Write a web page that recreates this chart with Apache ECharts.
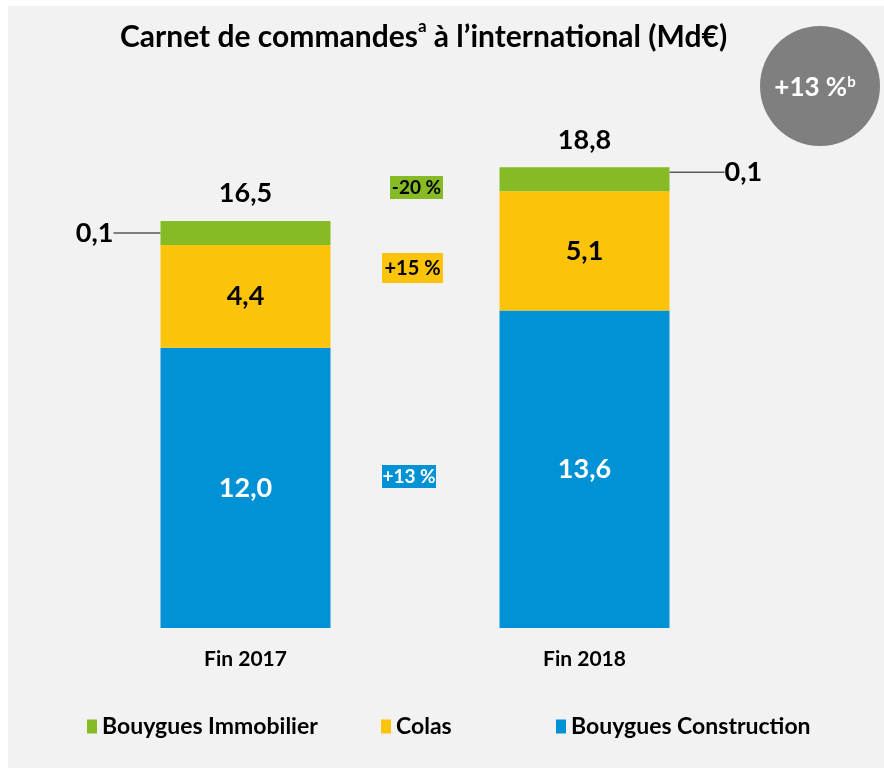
<!DOCTYPE html>
<html>
<head>
<meta charset="utf-8">
<script src="https://cdn.jsdelivr.net/npm/echarts@6/dist/echarts.min.js"></script>
<style>
  html, body { margin: 0; padding: 0; background: #ffffff; }
  #main { position: absolute; left: 8px; top: 6px; width: 876px; height: 762px; background: #f2f2f2; }
</style>
</head>
<body>
<div id="main"></div>
<script>
  // données du graphique
  var categories = ['Fin 2017', 'Fin 2018'];
  var construction = [12.0, 13.6];
  var colas = [4.4, 5.1];
  var immobilier = [0.1, 0.1];
  var totals = [16.5, 18.8];
  var seriesNames = ['Bouygues Immobilier', 'Colas', 'Bouygues Construction'];
  var changeLabels = ['-20 %', '+15 %', '+13 %'];

  var blue = '#0092d5';
  var yellow = '#fcc30b';
  var green = '#86bb26';
  var font = 'Lato, "Open Sans", sans-serif';

  function fr(v) {
    return v.toFixed(1).replace('.', ',');
  }

  var myChart = echarts.init(document.getElementById('main'));

  var legendBase = {
    top: 709,
    padding: 0,
    itemWidth: 10,
    itemHeight: 14,
    icon: 'rect',
    selectedMode: false,
    textStyle: { fontFamily: font, fontWeight: 'bold', fontSize: 23, color: '#000' }
  };

  var option = {
    animation: false,
    title: {
      text: 'Carnet de commandes{sup|a} à l’international (Md€)',
      left: 112,
      top: 12,
      padding: 0,
      textStyle: {
        fontFamily: font, fontWeight: 'bold', fontSize: 30, color: '#000', lineHeight: 38,
        rich: {
          sup: { fontFamily: font, fontWeight: 'bold', fontSize: 17, color: '#000', verticalAlign: 'top', lineHeight: 22 }
        }
      }
    },
    legend: [
      Object.assign({}, legendBase, { left: 79, data: [seriesNames[0]] }),
      Object.assign({}, legendBase, { left: 373, data: [seriesNames[1]] }),
      Object.assign({}, legendBase, { left: 548, data: [seriesNames[2]] })
    ],
    grid: { left: 68, right: 130, top: 155, bottom: 140 },
    xAxis: {
      type: 'category',
      data: categories,
      axisLine: { show: false },
      axisTick: { show: false },
      axisLabel: { margin: 21, fontFamily: font, fontWeight: 'bold', fontSize: 21, color: '#000' }
    },
    yAxis: {
      type: 'value',
      min: 0,
      max: 20,
      show: false,
      splitLine: { show: false }
    },
    series: [
      {
        name: seriesNames[2],
        type: 'bar',
        stack: 'total',
        barWidth: 170,
        data: construction,
        itemStyle: { color: blue },
        label: {
          show: true, position: 'inside', color: '#fff',
          fontFamily: font, fontWeight: 'bold', fontSize: 27,
          formatter: function (p) { return fr(p.value); }
        }
      },
      {
        name: seriesNames[1],
        type: 'bar',
        stack: 'total',
        barWidth: 170,
        data: colas,
        itemStyle: { color: yellow },
        label: {
          show: true, position: 'inside', color: '#000',
          fontFamily: font, fontWeight: 'bold', fontSize: 27,
          formatter: function (p) { return fr(p.value); }
        }
      },
      {
        name: seriesNames[0],
        type: 'bar',
        stack: 'total',
        barWidth: 170,
        barMinHeight: 24,
        data: immobilier,
        itemStyle: { color: green },
        label: {
          show: true, position: 'inside', color: '#000',
          fontFamily: font, fontWeight: 'bold', fontSize: 27,
          formatter: function (p) { return fr(p.value); }
        },
        labelLine: { show: true, lineStyle: { color: '#595959', width: 1.5 } },
        labelLayout: function (params) {
          var r = params.rect;
          var cy = r.y + r.height / 2;
          if (params.dataIndex === 0) {
            return { x: r.x - 47, y: cy, align: 'right', verticalAlign: 'middle' };
          }
          return { x: r.x + r.width + 55, y: cy - 7, align: 'left', verticalAlign: 'middle' };
        }
      },
      {
        name: 'Total',
        type: 'scatter',
        symbolSize: 1,
        data: totals,
        itemStyle: { color: 'rgba(0,0,0,0)', opacity: 1 },
        label: {
          show: true, position: 'inside', offset: [0, -49], color: '#000',
          fontFamily: font, fontWeight: 'bold', fontSize: 27,
          formatter: function (p) { return fr(p.value); }
        }
      }
    ],
    graphic: [
      {
        type: 'circle',
        shape: { cx: 812, cy: 80, r: 60 },
        style: { fill: '#7f7f7f' }
      },
      {
        type: 'text',
        x: 807, y: 82,
        style: {
          text: '+13 %{sup|b}',
          fill: '#fff',
          font: 'bold 26px ' + font,
          align: 'center', verticalAlign: 'middle',
          rich: { sup: { fill: '#fff', font: 'bold 15px ' + font, verticalAlign: 'top', lineHeight: 14 } }
        }
      },
      {
        type: 'group', x: 382, y: 170,
        children: [
          { type: 'rect', shape: { x: 0, y: 0, width: 53, height: 23 }, style: { fill: green } },
          { type: 'text', x: 26.5, y: 12, style: { text: changeLabels[0], fill: '#000', font: 'bold 19px ' + font, align: 'center', verticalAlign: 'middle' } }
        ]
      },
      {
        type: 'group', x: 374, y: 247,
        children: [
          { type: 'rect', shape: { x: 0, y: 0, width: 61, height: 30 }, style: { fill: yellow } },
          { type: 'text', x: 30.5, y: 15.5, style: { text: changeLabels[1], fill: '#000', font: 'bold 20px ' + font, align: 'center', verticalAlign: 'middle' } }
        ]
      },
      {
        type: 'group', x: 374, y: 459,
        children: [
          { type: 'rect', shape: { x: 0, y: 0, width: 54, height: 23 }, style: { fill: blue } },
          { type: 'text', x: 27, y: 12, style: { text: changeLabels[2], fill: '#fff', font: 'bold 19px ' + font, align: 'center', verticalAlign: 'middle' } }
        ]
      }
    ]
  };

  myChart.setOption(option);
</script>
</body>
</html>
